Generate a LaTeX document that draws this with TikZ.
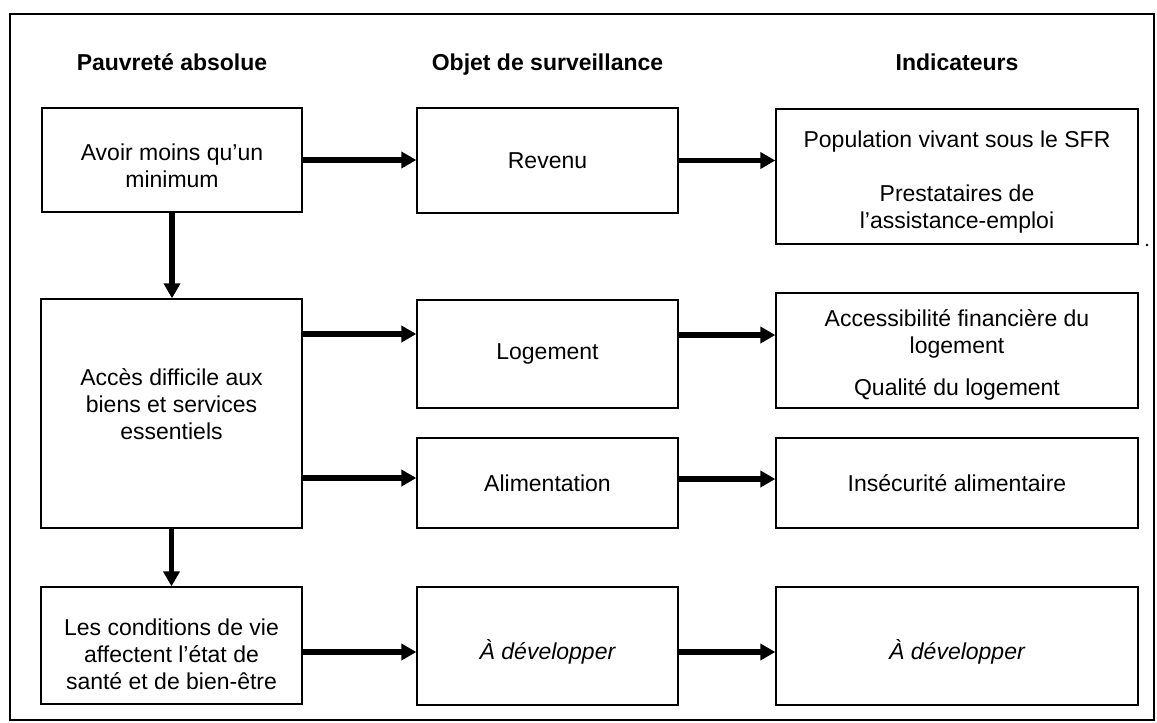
\documentclass[tikz,border=0pt]{standalone}
\usepackage{fontspec}
\setmainfont{Liberation Sans}
\usetikzlibrary{arrows.meta}
\begin{document}
\begin{tikzpicture}[x=1pt,y=-1pt,
  box/.style={draw=black, line width=1.3pt, align=center, inner sep=0pt, font=\fontsize{23}{27}\selectfont},
  txt/.style={align=center, inner sep=0pt, font=\fontsize{23}{27}\selectfont},
  head/.style={inner sep=0pt, anchor=base, font=\bfseries\fontsize{23}{27}\selectfont},
  arr/.style={line width=5.5pt, -{Triangle[length=15pt,width=16pt]}}]
\useasboundingbox (0,0) rectangle (1157,723);
\draw[line width=2pt] (10,14) rectangle (1154,720);

% headers
\node[head] (h1) at (172,70) {Pauvreté absolue};
\node[head] (h2) at (547.5,70) {Objet de surveillance};
\node[head] (h3) at (957,70) {Indicateurs};

% column 1
\node[box, minimum width=260pt, minimum height=104pt] (A) at (172,160) {};
\node[txt] (At) at (172,166) {\fontsize{23}{24.5}\selectfont Avoir moins qu’un\\minimum};
\node[box, minimum width=261pt, minimum height=229pt] (D) at (171.5,413.5) {};
\node[txt] (Dt) at (171.5,404) {\fontsize{23}{27.5}\selectfont Accès difficile aux\\biens et services\\essentiels};
\node[box, minimum width=261pt, minimum height=117pt] (I) at (171.5,645.5) {};
\node[txt] (It) at (171.5,654) {\fontsize{23}{30.5}\selectfont Les conditions de vie\\affectent l’état de\\santé et de bien-être};

% column 2
\node[box, minimum width=261pt, minimum height=105pt] (B) at (547.5,160.5) {Revenu};
\node[box, minimum width=261pt, minimum height=108pt] (E) at (547.5,354) {Logement};
\node[box, minimum width=261pt, minimum height=90pt] (G) at (547.5,483) {Alimentation};
\node[box, minimum width=261pt, minimum height=118pt] (J) at (547.5,646) {};
\node[txt] (Jt) at (547.5,652) {\itshape À développer};

% column 3
\node[box, minimum width=362pt, minimum height=135pt] (C) at (957,176.5) {};
\node[txt] (Ct) at (957,182)
  {\fontsize{23}{29}\selectfont Population vivant sous le SFR\\[27pt]Prestataires de\\l’assistance-emploi};
\node[box, minimum width=362pt, minimum height=115pt] (F) at (957,350.5) {};
\node[txt] (Ft) at (957,354.5)
  {Accessibilité financière du\\logement\\[15pt]Qualité du logement};
\node[box, minimum width=362pt, minimum height=90pt] (H) at (957,483) {Insécurité alimentaire};
\node[box, minimum width=362pt, minimum height=118pt] (K) at (957,646) {};
\node[txt] (Kt) at (957,652) {\itshape À développer};

\fill (1147,245) circle (1.3pt);

% arrows
\draw[arr] (A.east) -- (A.east -| B.west);
\draw[arr] (B.east) -- (B.east -| C.west);
\draw[arr] (A.south) -- (A.south |- D.north);
\draw[arr] (D.east |- 0,334) -- (E.west |- 0,334);
\draw[arr] (E.east |- 0,335) -- (F.west |- 0,335);
\draw[arr] (D.east |- 0,478) -- (G.west |- 0,478);
\draw[arr] (G.east |- 0,479) -- (H.west |- 0,479);
\draw[arr] (D.south) -- (D.south |- I.north);
\draw[arr] (I.east |- 0,652) -- (J.west |- 0,652);
\draw[arr] (J.east |- 0,652) -- (K.west |- 0,652);
\end{tikzpicture}
\end{document}
